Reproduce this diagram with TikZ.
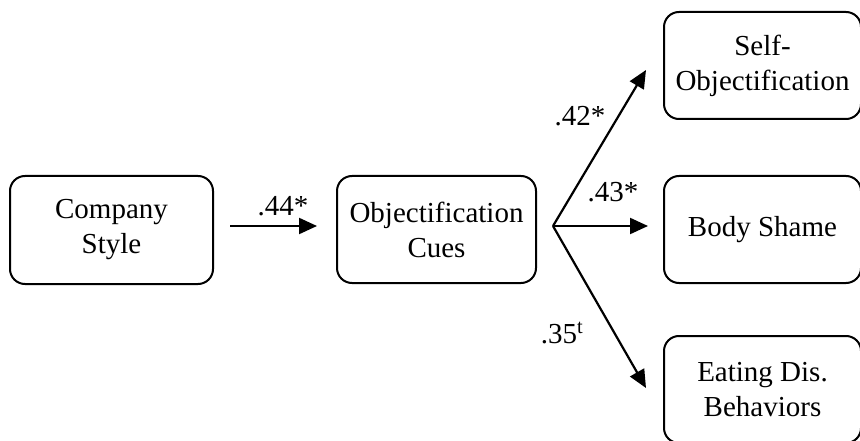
\documentclass[tikz,border=0pt]{standalone}
\usepackage{fontspec}
\setmainfont{Liberation Serif}
\usetikzlibrary{arrows.meta}
\begin{document}
\begin{tikzpicture}[x=1pt,y=-1pt,
  box/.style={draw, line width=2pt, rounded corners=15pt, align=center,
    font=\fontsize{29}{35}\selectfont, inner sep=0pt},
  arr/.style={line width=2.2pt, -{Triangle[length=18pt,width=16pt]}},
  lbl/.style={font=\fontsize{29}{35}\selectfont, inner sep=0pt}]
\useasboundingbox (0,0) rectangle (860,441);
\node[box, minimum width=203pt, minimum height=108pt] (cs) at (111.5,230) {Company\\Style};
\node[box, minimum width=199pt, minimum height=107pt] (oc) at (436.5,229.5) {Objectification\\Cues};
\node[box, minimum width=197pt, minimum height=107pt] (so) at (762.5,65.5) {Self-\\Objectification};
\node[box, minimum width=197pt, minimum height=107pt] (bs) at (762.5,229.5) {Body Shame};
\node[box, minimum width=197pt, minimum height=107pt] (ed) at (762.5,389.5) {Eating Dis.\\Behaviors};
\coordinate (f) at (553,226);
\coordinate (a1) at (230,226);
\coordinate (a2) at (317,226);
\coordinate (e1) at (646,70);
\coordinate (e2) at (648,226);
\coordinate (e3) at (646,388);
\draw[arr] (a1) -- (a2);
\draw[arr] (f) -- (e1);
\draw[arr] (f) -- (e2);
\draw[arr] (f) -- (e3);
\node[lbl] (l1) at (283,206) {.44*};
\node[lbl] (l2) at (580,116) {.42*};
\node[lbl] (l3) at (613,192) {.43*};
\node[lbl] (l4) at (562,333) {.35\textsuperscript{t}};
\end{tikzpicture}
\end{document}
